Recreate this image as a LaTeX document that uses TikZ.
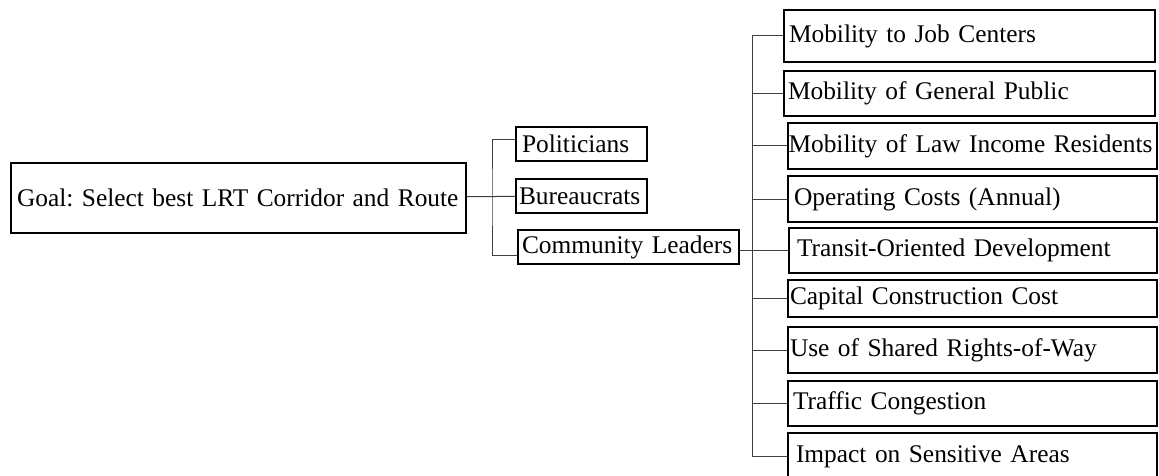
\documentclass[tikz,border=0pt]{standalone}
\usepackage{fontspec}
\setmainfont{Liberation Serif}
\frenchspacing
\tikzset{
  box/.style={rectangle, draw, line width=1.8pt, inner xsep=2pt, inner ysep=0pt, align=left, font=\fontsize{25.4}{30}\selectfont},
  link/.style={draw=black!75, line width=1pt}
}
\begin{document}
\begin{tikzpicture}[x=1pt, y=-1pt]
  \useasboundingbox (0,0) rectangle (1159,476);
  % Nodes
  \node (goal) [box, text width=451pt, minimum height=70pt] at (238.5,198) {\mbox{\hspace{4pt}Goal: Select best LRT Corridor and Route}};
  \node (pol) [box, text width=127pt, minimum height=34pt] at (581.5,144) {\mbox{\hspace{4pt}Politicians}};
  \node (bur) [box, text width=127pt, minimum height=34pt] at (581.5,196) {\mbox{\hspace{1pt}Bureaucrats}};
  \node (com) [box, text width=217pt, minimum height=34pt] at (628.5,247) {\mbox{\hspace{2pt}Community Leaders}};
  \node (mob1) [box, text width=367pt, minimum height=52pt] at (969.5,36) {\mbox{\hspace{3pt}Mobility to Job Centers}};
  \node (mob2) [box, text width=367pt, minimum height=45pt] at (969.5,93.5) {\mbox{\hspace{2pt}Mobility of General Public}};
  \node (mob3) [box, inner xsep=0.5pt, text width=368pt, minimum height=46pt] at (972.5,146) {\mbox{Mobility of Law Income Residents}};
  \node (opc) [box, text width=365pt, minimum height=46pt] at (972.5,199) {\mbox{\hspace{4pt}Operating Costs (Annual)}};
  \node (tod) [box, text width=364pt, minimum height=45pt] at (973,250.5) {\mbox{\hspace{6pt}Transit-Oriented Development}};
  \node (cap) [box, text width=365pt, minimum height=37pt] at (972.5,298.5) {\mbox{Capital Construction Cost}};
  \node (use) [box, text width=365pt, minimum height=46pt] at (972.5,350) {\mbox{Use of Shared Rights-of-Way}};
  \node (traf) [box, text width=365pt, minimum height=45pt] at (972.5,403.5) {\mbox{\hspace{3pt}Traffic Congestion}};
  \node (imp) [box, text width=365pt, minimum height=47pt] at (972.5,456.5) {\mbox{\hspace{6pt}Impact on Sensitive Areas}};
  % Trunks
  \coordinate (tr1) at (492,197);
  \coordinate (tr2) at (752,0);
  % Lines, first level
  \draw[link] (goal) -- (bur);
  \draw[link] ([yshift=4pt]pol.west) -| (tr1) |- ([yshift=-8pt]com.west);
  % Lines, second level
  \draw[link] (tod.west -| com.east) -- (tod.west);
  \draw[link] (mob1.west -| tr2) -- (imp.west -| tr2);
  \foreach \n in {mob1, mob2, mob3, opc, cap, use, traf, imp}
    \draw[link] (\n.west -| tr2) -- (\n.west);
\end{tikzpicture}
\end{document}
